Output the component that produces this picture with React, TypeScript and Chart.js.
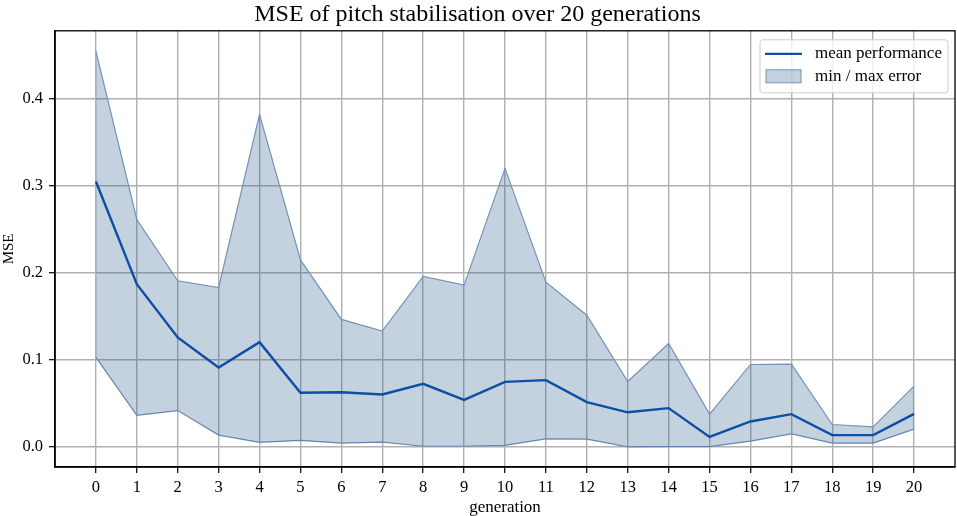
import { useEffect, useRef } from 'react'
import { Chart, registerables } from 'chart.js'

Chart.register(...registerables)

const generations = [0, 1, 2, 3, 4, 5, 6, 7, 8, 9, 10, 11, 12, 13, 14, 15, 16, 17, 18, 19, 20]
const meanMse = [0.305, 0.187, 0.126, 0.0915, 0.1205, 0.0625, 0.063, 0.0605, 0.0727, 0.0543, 0.075, 0.0769, 0.0517, 0.040, 0.0448, 0.0118, 0.0295, 0.0379, 0.0138, 0.0138, 0.0382]
const maxMse = [0.4546, 0.2614, 0.191, 0.1833, 0.382, 0.215, 0.1466, 0.1332, 0.196, 0.186, 0.320, 0.1894, 0.1515, 0.0754, 0.119, 0.0379, 0.0949, 0.0953, 0.026, 0.0233, 0.070]
const minMse = [0.103, 0.0364, 0.042, 0.0138, 0.0054, 0.0077, 0.0046, 0.0057, 0.001, 0.001, 0.002, 0.0095, 0.0092, 0.0004, 0.0005, 0.0005, 0.0069, 0.0153, 0.0046, 0.0046, 0.0207]
const yTicks = [0, 0.1, 0.2, 0.3, 0.4]

const serif = 'Liberation Serif'
const meanColor = '#0d4ea6'
const bandFill = 'rgba(20, 70, 125, 0.25)'
const bandEdge = '#7392b9'

// black box round the plot, like the matplotlib spines
const frame = {
  id: 'frame',
  afterDatasetsDraw(chart) {
    const { ctx, chartArea } = chart
    ctx.save()
    ctx.strokeStyle = '#000'
    ctx.lineWidth = 1.3
    ctx.strokeRect(chartArea.left, chartArea.top, chartArea.right - chartArea.left, chartArea.bottom - chartArea.top)
    ctx.restore()
  }
}

// legend drawn inside the plot, top right
const legendBox = {
  id: 'legendBox',
  afterDraw(chart) {
    const { ctx, chartArea } = chart
    const sets = chart.data.datasets
    const w = 188
    const h = 53
    const x = chartArea.right - w - 7
    const y = chartArea.top + 9
    ctx.save()
    ctx.beginPath()
    ctx.roundRect(x, y, w, h, 3)
    ctx.fillStyle = 'rgba(255,255,255,0.8)'
    ctx.fill()
    ctx.strokeStyle = '#cccccc'
    ctx.lineWidth = 1
    ctx.stroke()

    ctx.beginPath()
    ctx.strokeStyle = meanColor
    ctx.lineWidth = 2.2
    ctx.moveTo(x + 5, y + 14)
    ctx.lineTo(x + 42, y + 14)
    ctx.stroke()

    ctx.fillStyle = bandFill
    ctx.fillRect(x + 6, y + 30, 35, 13)
    ctx.strokeStyle = bandEdge
    ctx.lineWidth = 1
    ctx.strokeRect(x + 6, y + 30, 35, 13)

    ctx.fillStyle = '#000'
    ctx.font = `17px "${serif}"`
    ctx.textBaseline = 'middle'
    ctx.fillText(sets[0].label, x + 55, y + 14)
    ctx.fillText(sets[1].label, x + 55, y + 37)
    ctx.restore()
  }
}

const MseChart = () => {
  const chartRef = useRef(null)
  const chartInstance = useRef(null)

  useEffect(() => {
    document.body.style.margin = '0'
    if (chartRef && chartRef.current) {
      const ctx = chartRef.current.getContext('2d')

      if (chartInstance.current) {
        chartInstance.current.destroy()
      }

      const points = (vals) => generations.map((g, i) => ({ x: g, y: vals[i] }))

      chartInstance.current = new Chart(ctx, {
        type: 'line',
        data: {
          datasets: [
            {
              label: 'mean performance',
              data: points(meanMse),
              borderColor: meanColor,
              borderWidth: 2.4,
              pointRadius: 0,
              fill: false,
              tension: 0
            },
            {
              label: 'min / max error',
              data: points(maxMse),
              borderColor: bandEdge,
              backgroundColor: bandFill,
              borderWidth: 1.2,
              pointRadius: 0,
              fill: '+1',
              tension: 0
            },
            {
              label: 'min',
              data: points(minMse),
              borderColor: bandEdge,
              borderWidth: 1.2,
              pointRadius: 0,
              fill: false,
              tension: 0
            }
          ]
        },
        options: {
          animation: false,
          responsive: true,
          maintainAspectRatio: false,
          layout: {
            padding: { left: 0, right: 2, top: 0, bottom: 0 }
          },
          plugins: {
            legend: { display: false },
            tooltip: { enabled: false },
            title: {
              display: true,
              text: 'MSE of pitch stabilisation over 20 generations',
              color: '#000',
              font: { family: serif, size: 24, weight: 'normal' },
              padding: { top: 0, bottom: 2 }
            }
          },
          scales: {
            x: {
              type: 'linear',
              min: -1,
              max: 21,
              afterBuildTicks: (scale) => {
                scale.ticks = generations.map((v) => ({ value: v }))
              },
              afterFit: (scale) => {
                scale.height = 49
              },
              border: { display: true, color: '#000', width: 1.6 },
              grid: {
                color: '#b0b0b0',
                lineWidth: 1.4,
                tickColor: '#000',
                tickLength: 6,
                tickWidth: 1.2
              },
              ticks: {
                color: '#000',
                font: { family: serif, size: 16.5 },
                padding: 5,
                maxRotation: 0,
                autoSkip: false
              },
              title: {
                display: true,
                text: 'generation',
                color: '#000',
                font: { family: serif, size: 17 },
                padding: { top: 0, bottom: -2 }
              }
            },
            y: {
              min: -0.0228,
              max: 0.478,
              afterBuildTicks: (scale) => {
                scale.ticks = yTicks.map((v) => ({ value: v }))
              },
              afterFit: (scale) => {
                scale.width = 55
              },
              border: { display: true, color: '#000', width: 1.6 },
              grid: {
                color: '#b0b0b0',
                lineWidth: 1.4,
                tickColor: '#000',
                tickLength: 6,
                tickWidth: 1.2
              },
              ticks: {
                color: '#000',
                font: { family: serif, size: 16.5 },
                padding: 6,
                callback: (value) => Number(value).toFixed(1)
              },
              title: {
                display: true,
                text: 'MSE',
                color: '#000',
                font: { family: serif, size: 15 },
                padding: 0
              }
            }
          }
        },
        plugins: [frame, legendBox]
      })
    }

    return () => {
      if (chartInstance.current) {
        chartInstance.current.destroy()
        chartInstance.current = null
      }
    }
  }, [])

  return (
    <div style={{ position: 'relative', width: 957, height: 516 }}>
      <canvas ref={chartRef} />
    </div>
  )
}

export default function App() {
  return <MseChart />
}
